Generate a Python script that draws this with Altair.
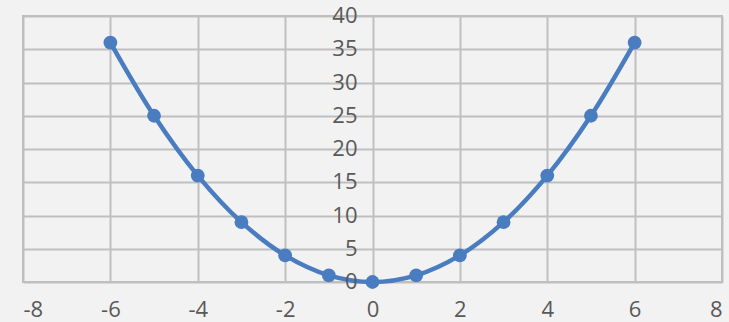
import altair as alt
import pandas as pd

# Points of y = x² sampled at integer x
x_values = [-6, -5, -4, -3, -2, -1, 0, 1, 2, 3, 4, 5, 6]
y_values = [36, 25, 16, 9, 4, 1, 0, 1, 4, 9, 16, 25, 36]

# Axis ticks
x_ticks = [-8, -6, -4, -2, 0, 2, 4, 6, 8]
y_ticks = [0, 5, 10, 15, 20, 25, 30, 35, 40]

series = pd.DataFrame({"x": x_values, "y": y_values})
ytick_df = pd.DataFrame({"x": [0] * len(y_ticks), "y": y_ticks, "label": [str(v) for v in y_ticks]})

BLUE = "#4a7cc0"
GRID = "#bfbfbf"
TEXT = "#595959"
FONT = "Open Sans"

x_scale = alt.Scale(domain=[-8, 8], nice=False, zero=False)
y_scale = alt.Scale(domain=[0, 40], nice=False)

x_axis = alt.Axis(
    values=x_ticks,
    title=None,
    domain=False,
    ticks=False,
    tickSize=0,
    labelPadding=17,
    labelFontSize=22,
    labelFont=FONT,
    labelColor=TEXT,
    labelExpr="'' + datum.value",
    grid=True,
    gridColor=GRID,
    gridWidth=2,
)
y_axis = alt.Axis(
    values=y_ticks,
    title=None,
    domain=False,
    ticks=False,
    labels=False,
    grid=True,
    gridColor=GRID,
    gridWidth=2,
)

x_enc = alt.X("x:Q", scale=x_scale, axis=x_axis)
y_enc = alt.Y("y:Q", scale=y_scale, axis=y_axis)

curve = alt.Chart(series).mark_line(
    interpolate="catmull-rom", color=BLUE, strokeWidth=4.5
).encode(x=x_enc, y=y_enc)

dots = alt.Chart(series).mark_point(
    filled=True, size=190, color=BLUE, opacity=1
).encode(x=x_enc, y=y_enc)

# Value labels for the vertical axis sit beside x = 0
ylabels = alt.Chart(ytick_df).mark_text(
    align="right", baseline="middle", dx=-15, fontSize=22, font=FONT, color=TEXT
).encode(x=x_enc, y=y_enc, text="label:N")

chart = (
    alt.layer(curve, dots, ylabels)
    .properties(
        width=699,
        height=266,
        autosize=alt.AutoSizeParams(type="none"),
        padding={"left": 23, "top": 16, "right": 7, "bottom": 40},
        background="#f2f2f2",
    )
    .configure_view(stroke=GRID, strokeWidth=2)
)

chart.save("out.html", embed_options={"renderer": "svg", "actions": False})
